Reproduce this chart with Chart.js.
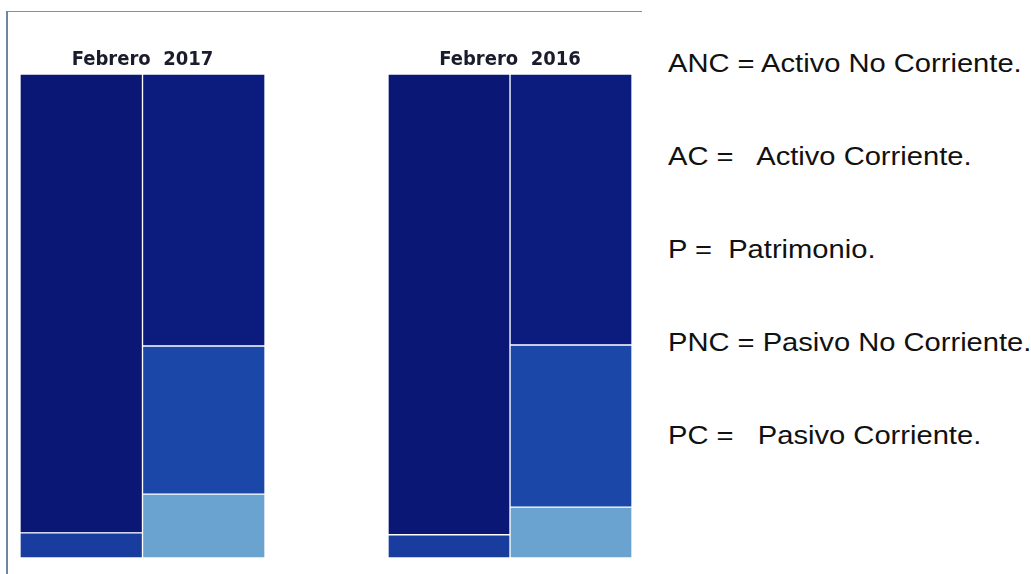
<!DOCTYPE html>
<html>
<head>
<meta charset="utf-8">
<script src="https://cdn.jsdelivr.net/npm/chart.js@4"></script>
<style>
  body { margin: 0; background: #fff; width: 1031px; height: 574px; overflow: hidden; position: relative; }
  .frame { position: absolute; left: 6px; top: 11px; width: 634px; height: 570px;
           border-top: 1px solid #7f93a8; border-left: 2px solid #6f86a0; }
  .panel { position: absolute; top: 42px; height: 516px; }
  .legend { position: absolute; left: 668px; font-family: "Liberation Sans", Arial, sans-serif;
            font-size: 25px; color: #111; white-space: pre;
            transform: scaleX(1.165); transform-origin: left center; }
</style>
</head>
<body>
<div class="frame"></div>
<div class="panel" style="left:20px;width:245px"><canvas id="chart2017"></canvas></div>
<div class="panel" style="left:388px;width:244px"><canvas id="chart2016"></canvas></div>
<div id="legendBox"></div>
<script>
// Balance structure, % of total
const columns = ["Activo", "Pasivo + Patrimonio"];
const titles = ["Febrero  2017", "Febrero  2016"];

// Febrero 2017
const anc2017 = [94.8, null];
const ac2017 = [5.2, null];
const p2017 = [null, 56.2];
const pnc2017 = [null, 30.6];
const pc2017 = [null, 13.2];

// Febrero 2016
const anc2016 = [95.2, null];
const ac2016 = [4.8, null];
const p2016 = [null, 56.0];
const pnc2016 = [null, 33.5];
const pc2016 = [null, 10.5];

const legendLines = [
  "ANC = Activo No Corriente.",
  "AC =   Activo Corriente.",
  "P =  Patrimonio.",
  "PNC = Pasivo No Corriente.",
  "PC =   Pasivo Corriente.",
];

const colors = {
  ANC: "#0a1774",
  AC: "#183d9e",
  P: "#0b1b7e",
  PNC: "#1a47a8",
  PC: "#6aa2d0",
};

const makeChart = (id, title, anc, ac, p, pnc, pc) => {
  const ctx = document.getElementById(id).getContext("2d");
  // stacked bottom-up: AC under ANC, PC under PNC under P
  const ds = (label, data) => ({
    label: label,
    data: data,
    backgroundColor: colors[label],
    borderColor: "#ffffff",
    borderWidth: 1,
    borderSkipped: false,
    barPercentage: 1,
    categoryPercentage: 1,
  });
  return new Chart(ctx, {
    type: "bar",
    data: {
      labels: columns,
      datasets: [
        ds("AC", ac),
        ds("ANC", anc),
        ds("PC", pc),
        ds("PNC", pnc),
        ds("P", p),
      ],
    },
    options: {
      responsive: true,
      maintainAspectRatio: false,
      animation: false,
      layout: { padding: 0 },
      plugins: {
        legend: { display: false },
        tooltip: { enabled: false },
        title: {
          display: true,
          text: title,
          color: "#1a1c2c",
          font: { family: "DejaVu Sans Condensed", weight: "bold", size: 20 },
          padding: { top: 6, bottom: 2 },
        },
      },
      scales: {
        x: { stacked: true, display: false, grid: { display: false } },
        y: { stacked: true, display: false, min: 0, max: 100, grid: { display: false } },
      },
    },
  });
};

makeChart("chart2017", titles[0], anc2017, ac2017, p2017, pnc2017, pc2017);
makeChart("chart2016", titles[1], anc2016, ac2016, p2016, pnc2016, pc2016);

// Legend text on the right
const legendBox = document.getElementById("legendBox");
legendLines.forEach((line, i) => {
  const el = document.createElement("div");
  el.className = "legend";
  el.style.top = 49 + i * 93 + "px";
  el.textContent = line;
  legendBox.appendChild(el);
});
</script>
</body>
</html>
